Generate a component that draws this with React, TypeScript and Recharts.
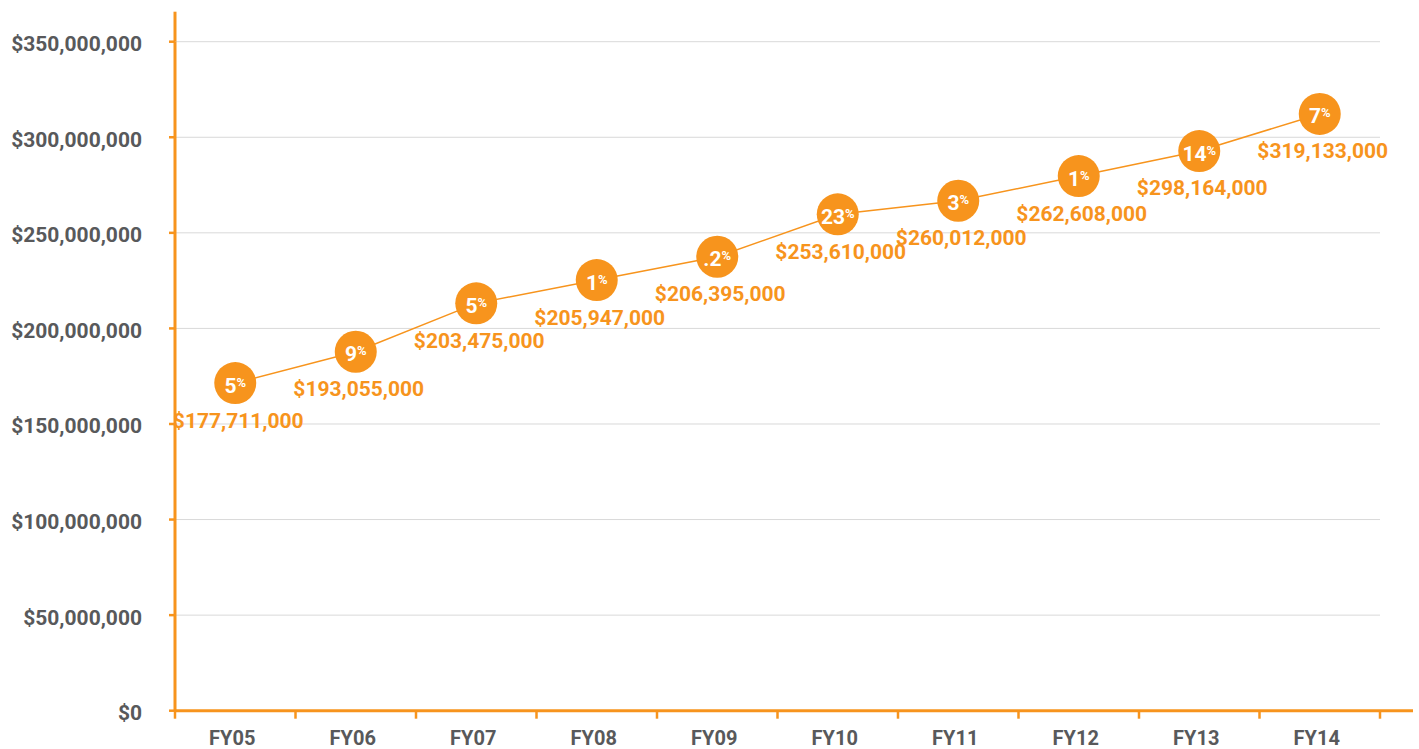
import { LineChart, Line, XAxis, YAxis, CartesianGrid } from "recharts";

const years = ["FY05", "FY06", "FY07", "FY08", "FY09", "FY10", "FY11", "FY12", "FY13", "FY14"];
// plotted position of each marker, in millions (as drawn on the chart)
const trend = [171.4, 187.8, 213.1, 225.3, 237.5, 259.7, 266.8, 279.7, 292.8, 312.2];
// printed budget amounts under each marker
const amounts = [
  "$177,711,000",
  "$193,055,000",
  "$203,475,000",
  "$205,947,000",
  "$206,395,000",
  "$253,610,000",
  "$260,012,000",
  "$262,608,000",
  "$298,164,000",
  "$319,133,000",
];
const growth = ["5", "9", "5", "1", ".2", "23", "3", "1", "14", "7"];
const yTicks = [0, 50, 100, 150, 200, 250, 300, 350];

const data = years.map((year, i) => ({ year, value: trend[i] * 1e6 }));

const ORANGE = "#F7941D";
const GRAY = "#58595B";
const FONT = "Roboto, 'Open Sans', sans-serif";
const BAND = 120.5;

function YearTick(props: any) {
  const { x, y, payload, index } = props;
  const last = index === years.length - 1;
  return (
    <g>
      <line x1={x - BAND / 2} x2={x - BAND / 2} y1={y} y2={y + 8} stroke={ORANGE} strokeWidth={2.5} />
      {last && (
        <>
          <line x1={x + BAND / 2} x2={x + BAND / 2} y1={y} y2={y + 8} stroke={ORANGE} strokeWidth={2.5} />
          <line x1={x + BAND / 2} x2={x + BAND / 2 + 33} y1={y} y2={y} stroke={ORANGE} strokeWidth={3} />
        </>
      )}
      <text
        x={x - 3}
        y={y + 27}
        dy="0.355em"
        textAnchor="middle"
        fill={GRAY}
        fontFamily={FONT}
        fontWeight={700}
        fontSize={20}
      >
        {payload.value}
      </text>
    </g>
  );
}

function DollarTick(props: any) {
  const { x, y, payload, index } = props;
  const top = index === yTicks.length - 1;
  return (
    <g>
      <line x1={x - 6} x2={x} y1={y} y2={y} stroke={ORANGE} strokeWidth={2.5} />
      {top && <line x1={x} x2={x} y1={y} y2={y - 30} stroke={ORANGE} strokeWidth={3} />}
      <text
        x={x - 33}
        y={y + 2}
        dy="0.355em"
        textAnchor="end"
        fill={GRAY}
        fontFamily={FONT}
        fontWeight={700}
        fontSize={21}
      >
        {"$" + Number(payload.value).toLocaleString("en-US")}
      </text>
    </g>
  );
}

function GrowthDot(props: any) {
  const { cx, cy, index } = props;
  return (
    <g>
      <circle cx={cx} cy={cy} r={21} fill={ORANGE} />
      <text
        x={cx}
        y={cy + 9.5}
        textAnchor="middle"
        fill="#fff"
        fontFamily={FONT}
        fontWeight={700}
        fontSize={21}
      >
        {growth[index]}
        <tspan fontSize={13} dy={-6}>
          %
        </tspan>
      </text>
      <text
        x={cx + 3}
        y={cy + 37}
        dy="0.355em"
        textAnchor="middle"
        fill={ORANGE}
        fontFamily={FONT}
        fontWeight={700}
        fontSize={21}
      >
        {amounts[index]}
      </text>
    </g>
  );
}

export default function App() {
  return (
    <div style={{ position: "absolute", left: 0, top: 0, background: "#fff" }}>
      <LineChart
        width={1419}
        height={749}
        data={data}
        margin={{ top: 41.7, right: 39, bottom: 8.3, left: 0 }}
      >
        <CartesianGrid vertical={false} stroke="#d9d9d9" />
        <XAxis
          dataKey="year"
          height={30}
          interval={0}
          padding={{ left: BAND / 2, right: BAND / 2 }}
          tickSize={0}
          tickMargin={0}
          tickLine={false}
          axisLine={{ stroke: ORANGE, strokeWidth: 3 }}
          tick={<YearTick />}
        />
        <YAxis
          width={175}
          domain={[0, 350e6]}
          ticks={yTicks.map((t) => t * 1e6)}
          interval={0}
          tickSize={0}
          tickMargin={0}
          tickLine={false}
          axisLine={{ stroke: ORANGE, strokeWidth: 3 }}
          tick={<DollarTick />}
        />
        <Line
          dataKey="value"
          stroke={ORANGE}
          strokeWidth={1.5}
          isAnimationActive={false}
          dot={(p: any) => <GrowthDot {...p} key={p.index} />}
          activeDot={false}
        />
      </LineChart>
    </div>
  );
}
